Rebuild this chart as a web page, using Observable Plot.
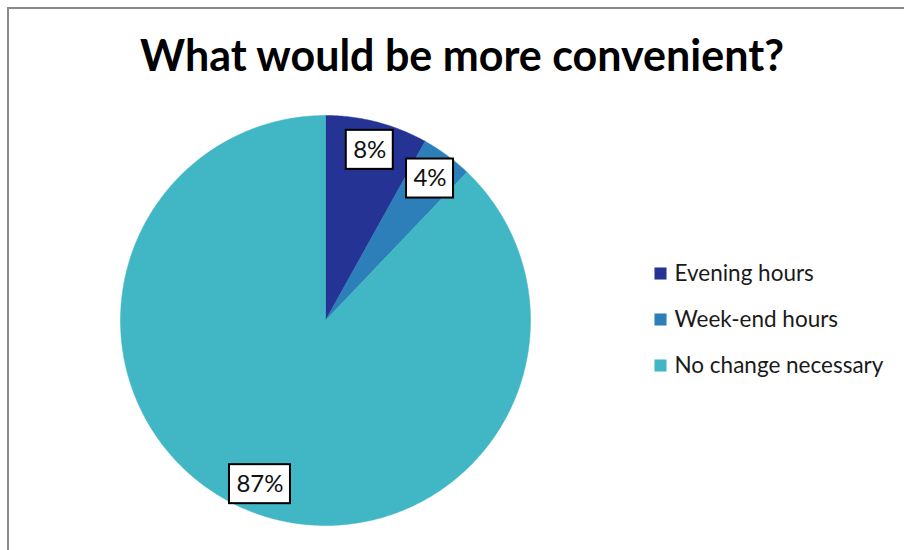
<!DOCTYPE html>
<html><head><meta charset="utf-8">
<script src="https://cdn.jsdelivr.net/npm/d3@7"></script>
<script src="https://cdn.jsdelivr.net/npm/@observablehq/plot@0.6"></script>
<style>
body{margin:0;background:#fff;}
#wrap{position:relative;width:904px;height:550px;overflow:hidden;background:#fff;}
#frame{position:absolute;left:7px;top:7px;width:1200px;height:1200px;border-left:2px solid #8a8a8a;border-top:2px solid #8a8a8a;}
#title{position:absolute;left:0;width:924px;top:29px;text-align:center;font-family:Lato,sans-serif;font-weight:bold;font-size:43px;color:#000;line-height:1.2;z-index:2;}
#chart{position:absolute;left:0;top:0;}
</style></head>
<body>
<div id="wrap"><div id="frame"></div><div id="chart"></div><div id="title">What would be more convenient?</div></div>
<script>
const categories = ["Evening hours", "Week-end hours", "No change necessary"];
const values = [8, 4, 87];
const valueLabels = ["8%", "4%", "87%"];
const colors = ["#253494", "#2c7fb8", "#41b6c4"];

const W = 904, H = 550, cx = 325, cy = 320, R = 205;
const ux = p => (p - cx) / R;
const uy = p => (cy - p) / R;

const arcs = d3.pie().sort(null).value(d => d)(values);
const slicePts = [];
arcs.forEach((a, i) => {
  const name = categories[i];
  slicePts.push({name, x: 0, y: 0});
  const n = Math.max(2, Math.ceil((a.endAngle - a.startAngle) / (Math.PI / 360)));
  for (let k = 0; k <= n; k++) {
    const t = a.startAngle + (a.endAngle - a.startAngle) * k / n;
    slicePts.push({name, x: Math.sin(t), y: Math.cos(t)});
  }
  slicePts.push({name, x: 0, y: 0});
});

const lr = 0.86;
const labelData = arcs.map((a, i) => {
  const m = (a.startAngle + a.endAngle) / 2;
  const w = 19 + 14 * valueLabels[i].length, h = 39;
  const x = lr * Math.sin(m), y = lr * Math.cos(m);
  return {text: valueLabels[i], x, y, x1: x - w / 2 / R, x2: x + w / 2 / R, y1: y - h / 2 / R, y2: y + h / 2 / R};
});

const legendRows = [273, 319, 365];
const legendData = categories.map((c, i) => ({name: c, y: uy(legendRows[i])}));

const chart = Plot.plot({
  width: W, height: H,
  margin: 0,
  x: {domain: [ux(0), ux(W)], range: [0, W], axis: null},
  y: {domain: [uy(0), uy(H)], range: [0, H], axis: null},
  color: {domain: categories, range: colors, legend: false},
  style: {background: "transparent", fontFamily: "Lato, sans-serif"},
  marks: [
    Plot.line(slicePts, {x: "x", y: "y", z: "name", fill: "name", stroke: "name", strokeWidth: 0.5, curve: "linear"}),
    Plot.rect(labelData, {x1: "x1", x2: "x2", y1: "y1", y2: "y2", fill: "white", stroke: "black", strokeWidth: 2}),
    Plot.text(labelData, {x: "x", y: "y", text: "text", fontSize: 24, fill: "#111"}),
    Plot.dot(legendData, {x: ux(660), y: "y", symbol: "square", r: 6.8, fill: "name", stroke: "none"}),
    Plot.text(legendData, {x: ux(674), y: "y", text: "name", textAnchor: "start", fontSize: 22.5, fill: "#1a1a1a"})
  ]
});
document.getElementById("chart").appendChild(chart);
</script>
</body></html>
